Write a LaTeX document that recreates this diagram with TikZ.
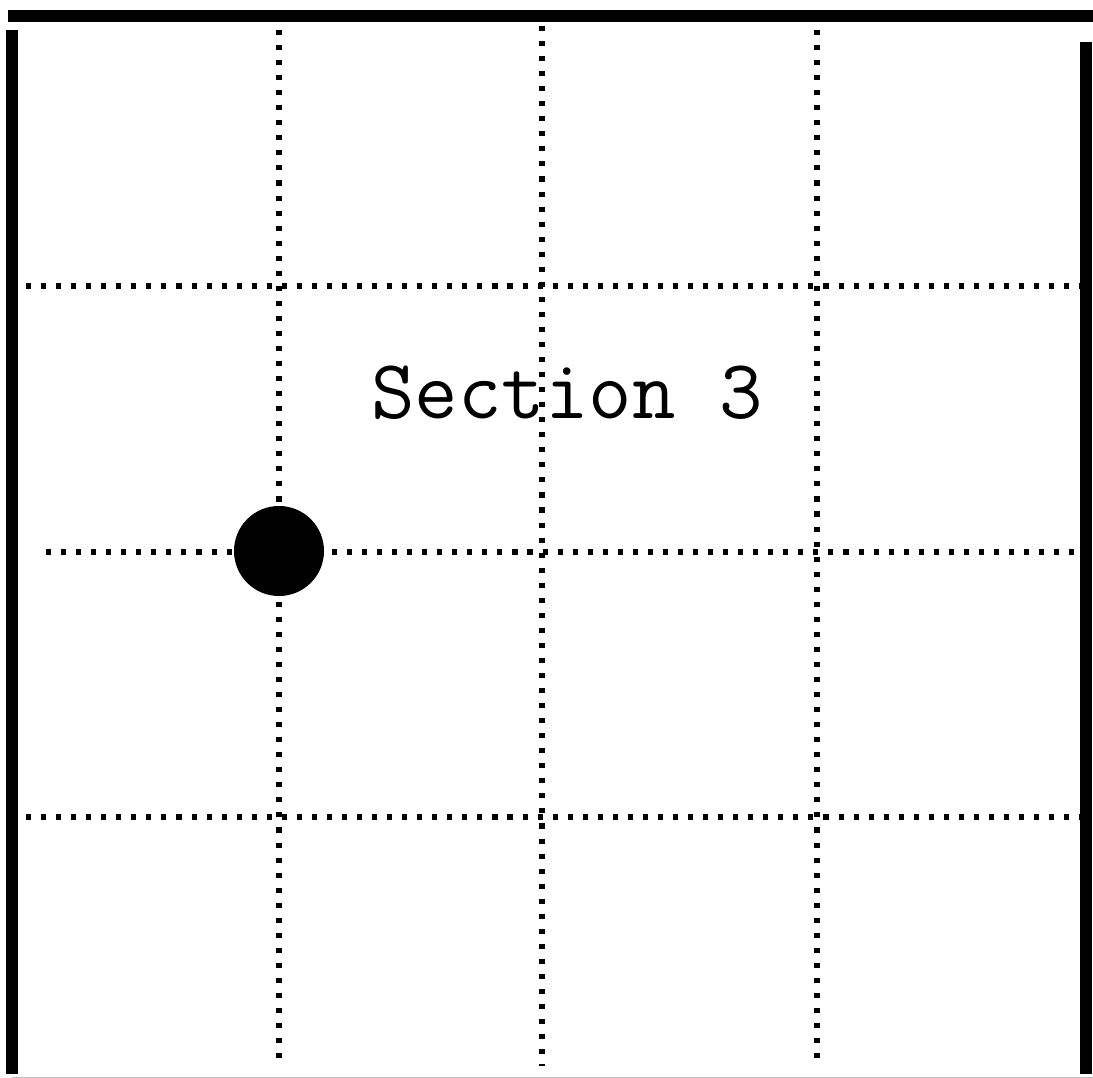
\documentclass[tikz,border=0pt]{standalone}
\usepackage{fontspec}
\usetikzlibrary{positioning}

\begin{document}
\begin{tikzpicture}[
    x=0.025cm, y=-0.025cm,
    frameline/.style={line width=8.5pt, draw=black},
    gridline/.style={line width=3.6pt, dash pattern=on 3.6pt off 7.1pt, draw=black},
    stone/.style={circle, fill=black, minimum size=2.25cm, inner sep=0pt},
    label/.style={font=\ttfamily\fontsize{60}{72}\selectfont, inner sep=0pt}
  ]
    \useasboundingbox (0,0) rectangle (1093,1078);
    % frame
    \draw[frameline] (8,16) -- (1093,16);
    \draw[frameline] (12,30) -- (12,1074);
    \draw[frameline] (1086,42) -- (1086,1074);
    \draw[line width=0.6pt, draw=black!25] (12,1077) -- (1093,1077);
    % dotted grid
    \draw[gridline] (26,286) -- (1080,286);
    \draw[gridline] (46,552) -- (1080,552);
    \draw[gridline] (26,817) -- (1080,817);
    \draw[gridline] (279,30) -- (279,1066);
    \draw[gridline] (542,26) -- (542,1066);
    \draw[gridline] (817,30) -- (817,1062);
    % text and marker
    \node[label] (title) at (567,393) {Section 3};
    \node[stone] (dot) at (279,551) {};
  \end{tikzpicture}
\end{document}
